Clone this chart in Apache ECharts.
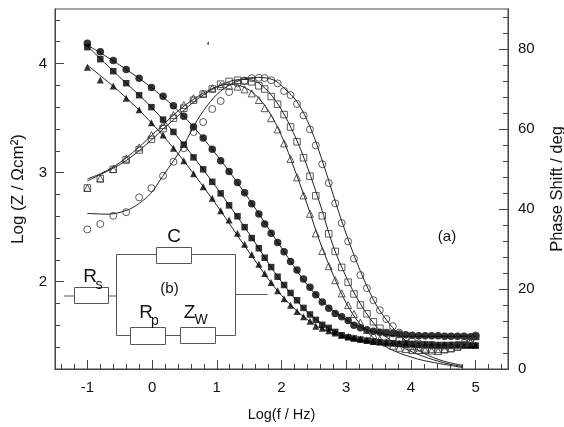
<!DOCTYPE html>
<html><head><meta charset="utf-8"><style>html,body{margin:0;background:#fff}#c{width:564px;height:427px}</style>
<script src="https://cdn.jsdelivr.net/npm/echarts@6/dist/echarts.min.js"></script></head>
<body><div id="c"></div><script>
const logF=[-1,-0.8,-0.6,-0.4,-0.2,-0.01,0.17,0.33,0.49,0.64,0.79,0.93,1.06,1.19,1.32,1.43,1.54,1.65,1.74,1.84,1.94,2.04,2.14,2.24,2.34,2.44,2.53,2.63,2.73,2.83,2.93,3.03,3.12,3.22,3.32,3.42,3.52,3.62,3.72,3.82,3.92,4.02,4.12,4.22,4.32,4.42,4.52,4.62,4.72,4.82,4.92,5.0];
const zCircle=[4.185,4.107,4.027,3.945,3.866,3.78,3.70,3.614,3.516,3.418,3.318,3.215,3.11,3.01,2.91,2.815,2.715,2.62,2.53,2.445,2.36,2.274,2.185,2.107,2.025,1.95,1.88,1.815,1.756,1.708,1.678,1.644,1.60,1.577,1.56,1.545,1.537,1.53,1.525,1.52,1.515,1.51,1.505,1.505,1.505,1.505,1.50,1.50,1.50,1.50,1.495,1.50];
const zSquare=[4.15,4.04,3.93,3.82,3.71,3.60,3.486,3.373,3.257,3.14,3.03,2.916,2.81,2.70,2.60,2.50,2.40,2.307,2.22,2.134,2.046,1.97,1.897,1.83,1.76,1.70,1.65,1.605,1.577,1.54,1.51,1.49,1.48,1.47,1.46,1.45,1.445,1.44,1.435,1.43,1.43,1.43,1.425,1.425,1.425,1.42,1.42,1.42,1.42,1.42,1.415,1.415];
const zTriangle=[3.965,3.85,3.795,3.683,3.577,3.458,3.345,3.224,3.108,2.99,2.87,2.765,2.65,2.565,2.445,2.344,2.25,2.16,2.076,1.994,1.918,1.845,1.784,1.726,1.678,1.638,1.592,1.574,1.55,1.53,1.51,1.50,1.485,1.475,1.465,1.455,1.45,1.445,1.44,1.435,1.43,1.43,1.425,1.42,1.42,1.42,1.42,1.42,1.42,1.42,1.42,1.42];
const phCircle=[34.9,36.25,38.3,39.2,42.9,45.2,48.3,51.8,55.2,59.25,61.75,65,67,69.25,71.4,72.1,72.7,72.8,72.75,72.2,71.4,69.5,68.5,66.25,63.4,59.9,55.9,51.2,46.5,41.4,36.5,31.9,27.6,23.5,20.2,17.2,14.7,12.5,10.7,9.1,7.9,6.9,6.4,6.1,5.9,5.8,5.8,5.9,6.1,6.5,7.5,8.4];
const phSquare=[45.25,47.6,49.9,52.25,54.75,57.4,60.1,62.7,65.2,67.2,68.7,70,71.2,71.9,72.2,72,71.8,70.8,70,68.1,66.2,63.6,60.5,56.8,52.8,48.2,43.3,38.3,33.8,29.4,25.4,21.7,18.75,16,13.8,11.8,10.2,9.1,7.9,7,6.25,5.7,5.3,5.0,4.9,4.9,4.9,5.1,5.5,6.0,6.8,8.1];
const phTriangle=[45.25,47.6,50,52.6,55.4,58.5,61,63.5,66,67.7,68.9,70.2,70.8,70.8,70.6,69.9,68.9,67.25,65.2,62.7,59.9,56.4,52.5,47.9,43.4,38.8,33.9,29.5,25.7,22.2,18.9,16,13.75,11.6,9.75,8.5,7.4,6.6,5.8,5.3,5.0,4.75,4.75,4.75,4.6,4.5,4.9,5.2,5.6,6,6.7,8.25];

const fitZX=[-1,-0.5,0,0.5,1,1.5,2,2.5,3,3.5,4,5];
const fitZCircle=[4.17,3.986,3.775,3.51,3.16,2.755,2.31,1.90,1.65,1.53,1.50,1.50];
const fitZSquare=[4.16,3.875,3.595,3.25,2.86,2.44,2.0,1.67,1.50,1.44,1.42,1.42];
const fitZTriangle=[3.985,3.74,3.45,3.10,2.70,2.27,1.875,1.61,1.49,1.44,1.42,1.41];

const fitPCircleX=[-1,-0.68,-0.38,-0.2,-0.02,0.16,0.34,0.49,0.7,0.9,1.1,1.37,1.63,1.88,2.04,2.24,2.45,2.66,2.91,3.15,3.42,3.62,3.82,4.0,4.2,4.5,4.8];
const fitPCircle=[38.9,38.7,39.75,41.4,43.9,48.1,52.25,56,62.25,66.8,70,72.25,72.9,72.25,70.2,66.8,60.2,50.6,38,27.25,17.3,12.3,8.6,6.0,3.9,2.0,0.9];
const fitPX=[-1,-0.8,-0.6,-0.4,-0.2,0,0.2,0.4,0.6,0.8,1,1.2,1.4,1.6,1.8,2.0,2.2,2.4,2.6,2.8,3.0,3.2,3.42,3.62,3.82,4.0,4.2,4.5,4.8];
const fitPSquare=[47,48.6,50.2,52.1,54.6,57.4,60.4,63.3,66.2,68.6,70.5,71.9,72.4,71.9,69.3,64.8,58.5,50.5,41,30.7,23,16.8,11.5,8,5.9,4.4,3.1,1.6,0.6];
const fitPTriangle=[47.5,48.8,50.5,52.8,55.5,58.5,61.5,64.5,67,69,70.6,71.2,70.6,68.5,64.5,58.3,50,41,31.5,23.5,16.5,11.5,7.8,5.5,4,3,2.1,1.2,0.35];

const xMajor=[-1,0,1,2,3,4,5];
const xMinor=[-1.4,-1.2,-0.8,-0.6,-0.4,-0.2,0.2,0.4,0.6,0.8,1.2,1.4,1.6,1.8,2.2,2.4,2.6,2.8,3.2,3.4,3.6,3.8,4.2,4.4,4.6,4.8,5.2,5.4];
const zMajor=[2,3,4];
const zMinor=[1.4,1.6,1.8,2.2,2.4,2.6,2.8,3.2,3.4,3.6,3.8,4.2,4.4];
const pMajor=[0,20,40,60,80];
const pMinor=[4,8,12,16,24,28,32,36,44,48,52,56,64,68,72,76,84,88];

const F='"Liberation Sans",Arial,sans-serif', INK='#111', AX='#444';
const zip=(a,b)=>a.map((v,i)=>[v,b[i]]);
const tick=(vals,len)=>({show:true,inside:true,length:len,customValues:vals,lineStyle:{color:AX,width:1}});
const lab=(vals,m)=>({show:true,customValues:vals,margin:m,color:INK,fontFamily:F,fontSize:15,hideOverlap:false,showMinLabel:true,showMaxLabel:true});
const xBase={type:'value',min:-1.5,max:5.5,position:'bottom',splitLine:{show:false},axisLine:{show:true,onZero:false,lineStyle:{color:AX}}};
const yZ={type:'value',min:1.2,max:4.5,position:'left',splitLine:{show:false},axisLine:{show:true,onZero:false,lineStyle:{color:AX}}};
const yP={type:'value',min:0,max:90,position:'right',splitLine:{show:false},axisLine:{show:true,onZero:false,lineStyle:{color:AX}}};
const fit=(data,y)=>({type:'line',data,yAxisIndex:y,smooth:0.35,showSymbol:false,symbol:'none',silent:true,lineStyle:{color:'#222',width:1},z:2});
const mark=(data,y,sym,size,filled)=>({type:'scatter',data,yAxisIndex:y,symbol:sym,symbolSize:size,silent:true,z:filled?3:4,
  itemStyle:filled?{color:'#000'}:{color:'rgba(255,255,255,0)',borderColor:'#333',borderWidth:1}});
const box=(x0,y0,x1,y1)=>({type:'rect',shape:{x:x0,y:y0,width:x1-x0,height:y1-y0},style:{fill:'#fff',stroke:'#555',lineWidth:1},z:10});
const wire=(pts)=>({type:'polyline',shape:{points:pts},style:{fill:null,stroke:'#555',lineWidth:1},z:9});
const txt=(s,x,y,size)=>({type:'text',x,y,style:{text:s,fill:INK,font:size+'px '+F,textAlign:'center',textVerticalAlign:'middle'},z:11});

const chart=echarts.init(document.getElementById('c'),null,{renderer:'canvas'});
chart.setOption({
  animation:false,backgroundColor:'#fff',
  grid:{left:55,right:56,top:9,bottom:58,show:true,borderColor:AX,borderWidth:1,backgroundColor:'transparent',containLabel:false,outerBoundsMode:'none'},
  xAxis:[
    Object.assign({},xBase,{axisTick:tick(xMajor,9),axisLabel:lab(xMajor,11),name:'Log(f / Hz)',nameLocation:'middle',nameGap:38,nameTextStyle:{color:INK,fontFamily:F,fontSize:14.5}}),
    Object.assign({},xBase,{axisTick:tick(xMinor,5),axisLabel:{show:false}})
  ],
  yAxis:[
    Object.assign({},yZ,{axisTick:tick(zMajor,9),axisLabel:lab(zMajor,8),name:'Log (Z / Ωcm²)',nameLocation:'middle',nameGap:28,nameTextStyle:{color:INK,fontFamily:F,fontSize:17}}),
    Object.assign({},yP,{axisTick:tick(pMajor,9),axisLabel:lab(pMajor,10),name:'Phase Shift / deg',nameLocation:'middle',nameGap:41,nameTextStyle:{color:INK,fontFamily:F,fontSize:16.5}}),
    Object.assign({},yZ,{axisTick:tick(zMinor,5),axisLabel:{show:false}}),
    Object.assign({},yP,{axisTick:tick(pMinor,5),axisLabel:{show:false}})
  ],
  series:[
    fit(zip(fitZX,fitZCircle),0),fit(zip(fitZX,fitZSquare),0),fit(zip(fitZX,fitZTriangle),0),
    fit(zip(fitPCircleX,fitPCircle),1),fit(zip(fitPX,fitPSquare),1),fit(zip(fitPX,fitPTriangle),1),
    mark(zip(logF,zTriangle),0,'triangle',7,true),
    mark(zip(logF,zSquare),0,'rect',6.5,true),
    mark(zip(logF,zCircle),0,'circle',7.5,true),
    mark(zip(logF,phCircle),1,'circle',7,false),
    mark(zip(logF,phSquare),1,'rect',6.5,false),
    mark(zip(logF,phTriangle),1,'triangle',7,false)
  ],
  graphic:[
    wire([[64,296],[74,296]]),wire([[108,296],[116.5,296]]),
    wire([[235.5,335.5],[235.5,254.5],[116.5,254.5],[116.5,335.5],[130,335.5]]),
    wire([[235.5,294.5],[267.5,294.5]]),
    wire([[165,335.5],[180,335.5]]),wire([[215.5,335.5],[235.5,335.5]]),
    box(74.5,287.5,108.5,303.5),box(156.5,247.5,191.5,263.5),box(130.5,327.5,165.5,344.5),box(180.5,327.5,215.5,343.5),
    txt('C',174,237,19),txt('(b)',169.5,289,15),txt('(a)',447,237,15),
    txt('R',90,276.5,19),txt('s',99,285,14),
    txt('R',146,313,19),txt('p',155,321,14),
    txt('Z',189.5,313,19),txt('W',201,320,14),
    {type:'polygon',shape:{points:[[207,44],[208.5,41],[209,45]]},style:{fill:'#333'},z:1}
  ]
});
</script></body></html>
